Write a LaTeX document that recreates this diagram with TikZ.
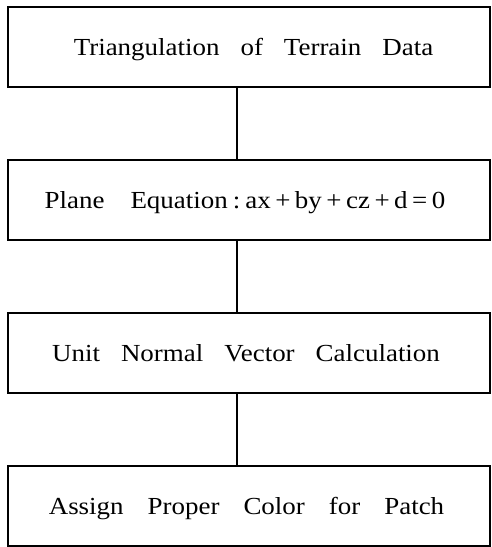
\documentclass[tikz,border=0pt]{standalone}
\usepackage{fontspec}
\setmainfont{Liberation Serif}[FakeStretch=1.1]
\newcommand\mywordsp{\spaceskip=21pt\relax}
\newcommand\mywidesp{\spaceskip=24pt\relax}
\begin{document}
\begin{tikzpicture}[x=1pt,y=-1pt,
  box/.style={draw, line width=1.3pt, minimum width=482pt, minimum height=80pt, inner sep=0pt},
  lbl/.style={font=\fontsize{24.5}{28}\selectfont, execute at begin node=\mywordsp, inner sep=0pt, anchor=base},
  link/.style={line width=1.3pt}]
\useasboundingbox (0,0) rectangle (492,547);
\node[box] (b1) at (249,47) {};
\node[box] (b2) at (249,200) {};
\node[box] (b3) at (249,353) {};
\node[box] (b4) at (249,506) {};
\node[lbl] (t1) at (253.5,55) {Triangulation of Terrain Data};
\node[lbl] (t2) at (245,208) {Plane\hspace{26pt}Equation\hspace{5pt}:\hspace{5pt}ax\hspace{4.5pt}+\hspace{4.5pt}by\hspace{4.5pt}+\hspace{4.5pt}cz\hspace{4.5pt}+\hspace{4.5pt}d\hspace{4.5pt}=\hspace{4.5pt}0};
\node[lbl] (t3) at (246,361) {Unit Normal Vector Calculation};
\node[lbl, execute at begin node=\mywidesp] (t4) at (246.5,514) {Assign Proper Color for Patch};
\draw[link] ([xshift=-12pt]b1.south) -- ([xshift=-12pt]b2.north);
\draw[link] ([xshift=-12pt]b2.south) -- ([xshift=-12pt]b3.north);
\draw[link] ([xshift=-12pt]b3.south) -- ([xshift=-12pt]b4.north);
\end{tikzpicture}
\end{document}
